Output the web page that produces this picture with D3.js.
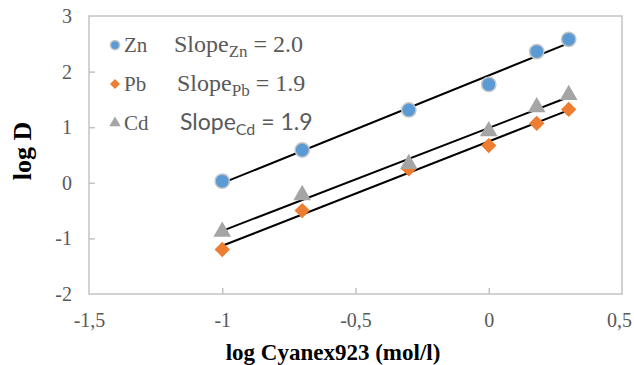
<!DOCTYPE html>
<html>
<head>
<meta charset="utf-8">
<title>log D vs log Cyanex923</title>
<style>
  body { margin: 0; background: #fff; }
  text { font-family: "Liberation Serif", "Times New Roman", serif; }
</style>
</head>
<body>
<script src="https://d3js.org/d3.v7.min.js"></script>
<svg id="chart" width="634" height="365"></svg>
<script>
// values
var logCyanex = [-1, -0.7, -0.3, 0, 0.18, 0.3];
var zn = [0.03, 0.59, 1.31, 1.77, 2.36, 2.58];
var pb = [-1.20, -0.50, 0.25, 0.67, 1.07, 1.32];
var cd = [-0.88, -0.22, 0.34, 0.93, 1.36, 1.58];
var xTicks = [-1.5, -1, -0.5, 0, 0.5];
var yTicks = [-2, -1, 0, 1, 2, 3];
var seriesNames = ["Zn", "Pb", "Cd"];
var slopeTexts = ["2.0", "1.9", "1.9"];

var margin = {top: 16, right: 12, bottom: 71, left: 89},
    width = 634 - margin.left - margin.right,
    height = 365 - margin.top - margin.bottom;

var x = d3.scaleLinear().domain([-1.5, 0.5]).range([0, width]);
var y = d3.scaleLinear().domain([-2, 3]).range([height, 0]);

var svg = d3.select("#chart");
var g = svg.append("g").attr("transform", "translate(" + margin.left + "," + margin.top + ")");

var axisColor = "#c3c3c3", labelColor = "#595959";

// plot area frame
g.append("rect")
  .attr("width", width).attr("height", height)
  .attr("fill", "none").attr("stroke", axisColor).attr("stroke-width", 1.5);

// axes, ticks pointing in
var fmt = function(d) { return String(d).replace(".", ","); };
var xa = g.append("g").attr("transform", "translate(0," + height + ")")
  .call(d3.axisBottom(x).tickValues(xTicks).tickSizeInner(-6).tickSizeOuter(0).tickPadding(19).tickFormat(fmt));
var ya = g.append("g")
  .call(d3.axisLeft(y).tickValues(yTicks).tickSizeInner(-6).tickSizeOuter(0).tickPadding(17).tickFormat(fmt));
[xa, ya].forEach(function(a) {
  a.attr("font-size", 20).attr("font-family", "'Liberation Serif', serif");
  a.select(".domain").remove();
  a.selectAll(".tick line").attr("stroke", axisColor).attr("stroke-width", 1.5);
  a.selectAll(".tick text").attr("fill", labelColor);
});
xa.selectAll(".tick").filter(function(d) { return d === -1.5 || d === 0.5; }).select("line").remove();
ya.selectAll(".tick").filter(function(d) { return d === -2 || d === 3; }).select("line").remove();
// keep the last label inside the window
xa.selectAll(".tick").filter(function(d) { return d === 0.5; }).select("text").attr("x", -3);

// trend lines (least squares)
function fit(xs, ys) {
  var mx = d3.mean(xs), my = d3.mean(ys);
  var sxy = d3.sum(xs, function(v, i) { return (v - mx) * (ys[i] - my); });
  var sxx = d3.sum(xs, function(v) { return (v - mx) * (v - mx); });
  var b = sxy / sxx;
  return function(v) { return my + b * (v - mx); };
}
var allSeries = [zn, pb, cd];
var x0 = d3.min(logCyanex), x1 = d3.max(logCyanex);
allSeries.forEach(function(s) {
  var f = fit(logCyanex, s);
  g.append("line")
    .attr("x1", x(x0)).attr("y1", y(f(x0)))
    .attr("x2", x(x1)).attr("y2", y(f(x1)))
    .attr("stroke", "#000").attr("stroke-width", 2);
});

// markers
var sym = [
  {type: d3.symbolCircle, size: 160, fill: "#5b9bd5", stroke: "#c5c5c5", sw: 1.5},
  {type: d3.symbolDiamond2, size: 150, fill: "#ed7d31", stroke: "none", sw: 0},
  {type: d3.symbolTriangle, size: 135, fill: "#a5a5a5", stroke: "none", sw: 0}
];
function drawSym(sel, k, cx, cy, scale) {
  var sp = sym[k];
  sel.append("path")
    .attr("d", d3.symbol().type(sp.type).size(sp.size * (scale || 1))())
    .attr("transform", "translate(" + cx + "," + cy + ")")
    .attr("fill", sp.fill).attr("stroke", sp.stroke).attr("stroke-width", sp.sw);
}
[0, 1, 2].forEach(function(k) {
  var s = allSeries[k];
  logCyanex.forEach(function(v, i) { drawSym(g, k, x(v), y(s[i])); });
});

// legend with slopes
var rows = [45, 84, 123];
var slopeX = [174, 177, 180];
var slopeFont = ["'Liberation Serif', serif", "'Liberation Serif', serif", "Lato, 'Open Sans', sans-serif"];
seriesNames.forEach(function(name, k) {
  drawSym(svg, k, 115, rows[k], 0.42);
  svg.append("text").attr("x", 124).attr("y", rows[k] + 7)
    .attr("fill", labelColor).style("font-size", "21px").text(name);
  var t = svg.append("text").attr("x", slopeX[k]).attr("y", rows[k] + 7)
    .attr("fill", labelColor).style("font-size", k === 2 ? "23px" : "24px")
    .style("font-family", slopeFont[k]);
  t.append("tspan").text("Slope");
  t.append("tspan").attr("dy", 5).style("font-size", k === 2 ? "16px" : "17px").text(name);
  t.append("tspan").attr("dy", -5).text(" = " + slopeTexts[k]);
});

// axis titles
svg.append("text").attr("x", 333).attr("y", 360).attr("text-anchor", "middle")
  .style("font-size", "23px").style("font-weight", "bold").attr("fill", "#000")
  .text("log Cyanex923 (mol/l)");
svg.append("text").attr("transform", "translate(31,151) rotate(-90)").attr("text-anchor", "middle")
  .style("font-size", "26px").style("font-weight", "bold").attr("fill", "#000")
  .text("log D");
</script>
</body>
</html>
